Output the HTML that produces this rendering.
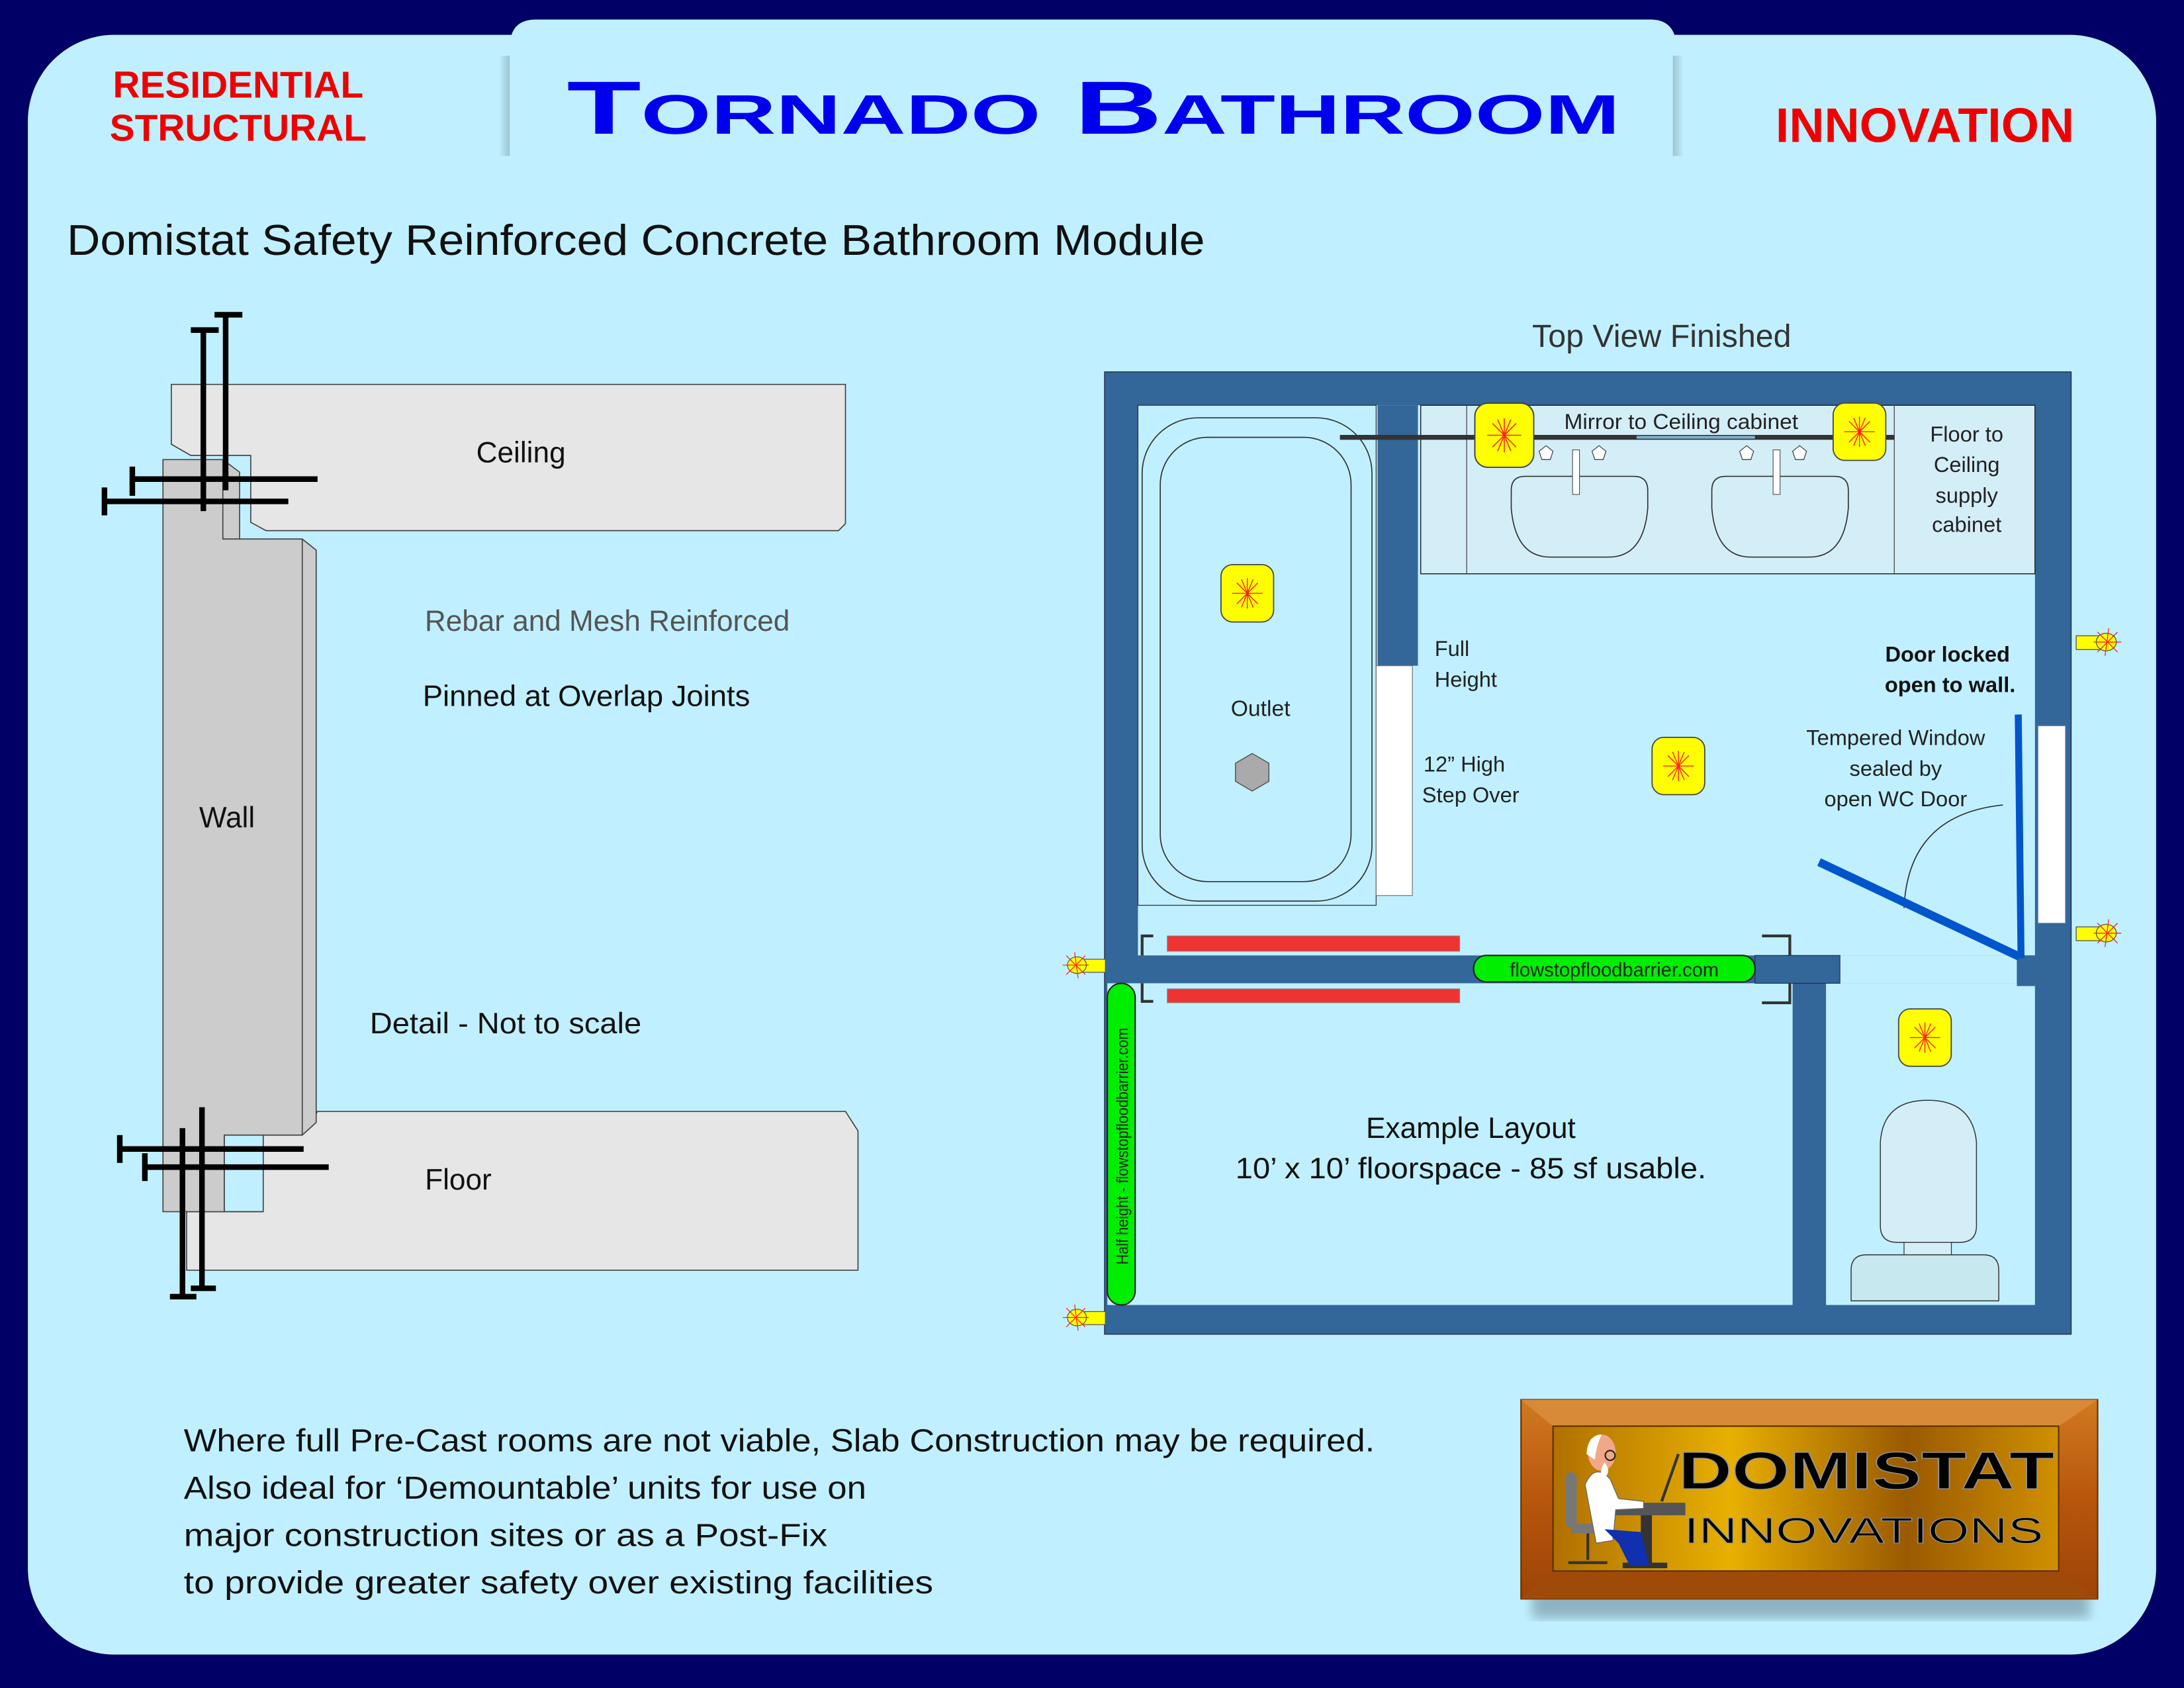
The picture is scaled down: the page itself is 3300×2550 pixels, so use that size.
<!DOCTYPE html>
<html><head><meta charset="utf-8"><style>
html,body{margin:0;padding:0;background:#000066;}
svg{display:block}
text{font-family:"Liberation Sans",sans-serif}
</style></head><body>
<svg width="3300" height="2550" viewBox="0 0 1568 1212" preserveAspectRatio="none" xmlns="http://www.w3.org/2000/svg">
<defs>
<symbol id="lamp" viewBox="0 0 46 50" overflow="visible">
<rect x="0.5" y="0.5" width="45" height="49" rx="10" fill="#ffff00" stroke="#444" stroke-width="1"/>
<g stroke="#ff2020" stroke-width="0.8">
<line x1="23" y1="12" x2="23" y2="38"/><line x1="10" y1="25" x2="36" y2="25"/>
<line x1="14" y1="16" x2="32" y2="34"/><line x1="32" y1="16" x2="14" y2="34"/>
<line x1="18" y1="13" x2="28" y2="37"/><line x1="28" y1="13" x2="18" y2="37"/>
</g>
</symbol>
<symbol id="bulb" viewBox="0 0 40 24" overflow="visible">
<rect x="14" y="7" width="22" height="11" fill="#ffff00" stroke="#555" stroke-width="0.7"/>
<ellipse cx="12" cy="12" rx="8" ry="7" fill="#ffff00" stroke="#555" stroke-width="0.7"/>
<g stroke="#ff2020" stroke-width="0.7">
<line x1="0" y1="12" x2="22" y2="12"/><line x1="3" y1="4" x2="19" y2="20"/><line x1="3" y1="20" x2="19" y2="4"/>
<line x1="10" y1="1" x2="13" y2="23"/></g>
</symbol>
<linearGradient id="gold" x1="0" y1="0" x2="1" y2="0">
<stop offset="0" stop-color="#b07000"/><stop offset="0.35" stop-color="#e8b000"/><stop offset="0.7" stop-color="#9a5a00"/><stop offset="1" stop-color="#d09000"/></linearGradient>
<linearGradient id="wood" x1="0" y1="0" x2="0" y2="1">
<stop offset="0" stop-color="#d07a20"/><stop offset="0.5" stop-color="#b8560c"/><stop offset="1" stop-color="#9c4408"/></linearGradient>
<linearGradient id="shL" x1="0" y1="0" x2="1" y2="0"><stop offset="0" stop-color="#c0f0ff"/><stop offset="1" stop-color="#9cc4d0"/></linearGradient>
<linearGradient id="shR" x1="0" y1="0" x2="1" y2="0"><stop offset="0" stop-color="#9cc4d0"/><stop offset="1" stop-color="#c0f0ff"/></linearGradient>
<filter id="blur"><feGaussianBlur stdDeviation="4"/></filter>
</defs>

<rect x="0" y="0" width="1568" height="1212" fill="#000066"/>
<rect x="20" y="25" width="1528" height="1163" rx="62" fill="#c0f0ff"/>
<!-- title tab -->
<path d="M363 112 L367 26 Q370 14 385 14 L1185 14 Q1200 14 1203 28 L1206 112 Z" fill="#c0f0ff"/>
<rect x="358" y="40" width="8" height="72" fill="url(#shL)"/>
<rect x="1201" y="40" width="8" height="72" fill="url(#shR)"/>
<text x="785" y="96" text-anchor="middle" font-size="54" font-weight="bold" fill="#0000ee" textLength="756" lengthAdjust="spacingAndGlyphs">T<tspan font-size="40">ORNADO</tspan> B<tspan font-size="40">ATHROOM</tspan></text>

<text x="171" y="70" text-anchor="middle" font-size="27" font-weight="bold" fill="#ee0000">RESIDENTIAL</text>
<text x="171" y="101" text-anchor="middle" font-size="27" font-weight="bold" fill="#ee0000">STRUCTURAL</text>
<text x="1382" y="102" text-anchor="middle" font-size="35" font-weight="bold" fill="#ee0000">INNOVATION</text>

<text x="48" y="183" font-size="31" fill="#111" textLength="817" lengthAdjust="spacingAndGlyphs">Domistat Safety Reinforced Concrete Bathroom Module</text>

<!-- left detail -->
<g stroke="#444" stroke-width="0.8">
<polygon points="123,276 607,276 607,376 602,381 191,381 180,375 180,327 137,327 123,319" fill="#e6e6e6"/>
<polygon points="134,870 134,912 616,912 616,812 607,798 228,798 218,812 189,812 189,870" fill="#e6e6e6"/>
<polygon points="117,330 160,330 172,339 172,387 217,387 227,395 227,806 217,815 161,815 161,870 117,870" fill="#cccccc"/>
<line x1="217" y1="387" x2="217" y2="815"/>
<polyline points="160,330 160,387 172,387" fill="none"/>
<polyline points="161,815 161,870 189,870" fill="none"/>
</g>
<g stroke="#000" stroke-width="4" fill="none">
<line x1="146" y1="237" x2="146" y2="367"/><line x1="137" y1="237" x2="157" y2="237"/>
<line x1="162" y1="226" x2="162" y2="352"/><line x1="154" y1="226" x2="174" y2="226"/>
<line x1="95" y1="344" x2="228" y2="344"/><line x1="95" y1="335" x2="95" y2="356"/>
<line x1="75" y1="360" x2="207" y2="360"/><line x1="75" y1="350" x2="75" y2="370"/>
<line x1="86" y1="825" x2="218" y2="825"/><line x1="86" y1="815" x2="86" y2="835"/>
<line x1="104" y1="838" x2="236" y2="838"/><line x1="104" y1="828" x2="104" y2="848"/>
<line x1="131" y1="810" x2="131" y2="931"/><line x1="122" y1="931" x2="141" y2="931"/>
<line x1="145" y1="795" x2="145" y2="925"/><line x1="137" y1="925" x2="155" y2="925"/>
</g>
<text x="374" y="332" text-anchor="middle" font-size="21" fill="#111">Ceiling</text>
<text x="163" y="594" text-anchor="middle" font-size="21" fill="#111">Wall</text>
<text x="329" y="854" text-anchor="middle" font-size="21" fill="#111">Floor</text>
<text x="436" y="453" text-anchor="middle" font-size="21" fill="#555" textLength="262" lengthAdjust="spacingAndGlyphs">Rebar and Mesh Reinforced</text>
<text x="421" y="507" text-anchor="middle" font-size="21" fill="#111" textLength="235" lengthAdjust="spacingAndGlyphs">Pinned at Overlap Joints</text>
<text x="363" y="742" text-anchor="middle" font-size="21" fill="#111" textLength="195" lengthAdjust="spacingAndGlyphs">Detail - Not to scale</text>

<!-- plan -->
<text x="1193" y="249" text-anchor="middle" font-size="23" fill="#333" textLength="186" lengthAdjust="spacingAndGlyphs">Top View Finished</text>
<rect x="793" y="267" width="694" height="691" fill="#336699" stroke="#224" stroke-width="0.6"/>
<rect x="817" y="291" width="644" height="395" fill="#c0f0ff"/>
<rect x="817" y="706" width="470" height="231" fill="#c0f0ff"/>
<rect x="1311" y="706" width="150" height="231" fill="#c0f0ff"/>
<rect x="1287" y="686" width="161" height="20" fill="#c0f0ff"/>
<rect x="1260" y="686" width="61" height="20" fill="#336699" stroke="#224" stroke-width="0.5"/>
<rect x="1448" y="686" width="13" height="22" fill="#336699"/>
<rect x="989" y="291" width="29" height="187" fill="#336699"/>
<rect x="795" y="706" width="22" height="231" fill="#c0f0ff"/>
<!-- tub -->
<rect x="817" y="291" width="171" height="359" fill="#c0f0ff" stroke="#333" stroke-width="0.6"/>
<rect x="820" y="300" width="165" height="347" rx="40" fill="none" stroke="#333" stroke-width="0.8"/>
<rect x="833" y="314" width="137" height="319" rx="34" fill="none" stroke="#333" stroke-width="0.8"/>
<text x="905" y="514" text-anchor="middle" font-size="16" fill="#222">Outlet</text>
<polygon points="899,541 911,548 911,561 899,568 887,561 887,548" fill="#aaa" stroke="#555" stroke-width="0.7"/>
<rect x="988" y="478" width="26" height="165" fill="#fff" stroke="#777" stroke-width="0.6"/>
<!-- vanity -->
<rect x="1020" y="291" width="441" height="121" fill="#d4eef8" stroke="#222" stroke-width="0.7"/>
<line x1="1053" y1="291" x2="1053" y2="412" stroke="#444" stroke-width="0.6"/>
<line x1="1360" y1="291" x2="1360" y2="412" stroke="#444" stroke-width="0.6"/>
<line x1="962" y1="314" x2="1360" y2="314" stroke="#333" stroke-width="3.5"/>
<line x1="1175" y1="314" x2="1260" y2="314" stroke="#7fb0cc" stroke-width="2"/>
<path d="M1085 352 Q1085 342 1095 342 L1173 342 Q1183 342 1183 352 L1183 365 Q1180 400 1155 400 L1113 400 Q1088 400 1085 365 Z" fill="#d4eef8" stroke="#333" stroke-width="0.8"/>
<path d="M1229 352 Q1229 342 1239 342 L1317 342 Q1327 342 1327 352 L1327 365 Q1324 400 1299 400 L1257 400 Q1232 400 1229 365 Z" fill="#d4eef8" stroke="#333" stroke-width="0.8"/>
<rect x="1129" y="323" width="5" height="32" fill="#fff" stroke="#444" stroke-width="0.5"/>
<rect x="1273" y="323" width="5" height="32" fill="#fff" stroke="#444" stroke-width="0.5"/>
<g fill="#fff" stroke="#444" stroke-width="0.6">
<polygon points="1110,320 1115,324 1113,330 1107,330 1105,324"/>
<polygon points="1148,320 1153,324 1151,330 1145,330 1143,324"/>
<polygon points="1254,320 1259,324 1257,330 1251,330 1249,324"/>
<polygon points="1292,320 1297,324 1295,330 1289,330 1287,324"/>
</g>
<text x="1207" y="308" text-anchor="middle" font-size="15.5" fill="#222" textLength="168" lengthAdjust="spacingAndGlyphs">Mirror to Ceiling cabinet</text>
<g font-size="15.5" fill="#222" text-anchor="middle">
<text x="1412" y="317">Floor to</text><text x="1412" y="339">Ceiling</text><text x="1412" y="361">supply</text><text x="1412" y="382">cabinet</text>
</g>
<use href="#lamp" x="1057" y="289" width="46" height="47"/>
<use href="#lamp" x="1312" y="289" width="46" height="42"/>
<use href="#lamp" x="873" y="405" width="45" height="42"/>
<use href="#lamp" x="1183" y="529" width="44" height="42"/>
<use href="#lamp" x="1360" y="724" width="44" height="42"/>
<g font-size="15.5" fill="#222">
<text x="1030" y="471">Full</text><text x="1030" y="493">Height</text>
<text x="1022" y="554">12” High</text><text x="1021" y="576">Step Over</text>
</g>
<g font-size="15.5" fill="#111" font-weight="bold" text-anchor="end">
<text x="1443" y="475">Door locked</text><text x="1447" y="497">open to wall.</text>
</g>
<g font-size="15.5" fill="#222" text-anchor="middle">
<text x="1361" y="535">Tempered Window</text><text x="1361" y="557">sealed by</text><text x="1361" y="579">open WC Door</text>
</g>
<rect x="1463" y="521" width="20" height="142" fill="#fff" stroke="#4477aa" stroke-width="0.7"/>
<path d="M1367 652 Q1370 585 1438 578" fill="none" stroke="#333" stroke-width="0.8"/>
<line x1="1306" y1="619" x2="1450" y2="687" stroke="#0055cc" stroke-width="6"/>
<line x1="1449" y1="513" x2="1451" y2="688" stroke="#0055cc" stroke-width="5"/>
<!-- flood barriers -->
<rect x="838" y="672" width="210" height="11" fill="#ee3333" stroke="#888" stroke-width="0.5"/>
<rect x="838" y="710" width="210" height="10" fill="#ee3333" stroke="#888" stroke-width="0.5"/>
<g stroke="#333" stroke-width="2" fill="none">
<polyline points="828,672 820,672 820,686"/><polyline points="820,706 820,719 828,719"/>
<polyline points="1265,672 1285,672 1285,686"/><polyline points="1285,706 1285,720 1265,720"/>
</g>
<rect x="1058" y="686" width="202" height="19" rx="9" fill="#00ee00" stroke="#222" stroke-width="1"/>
<text x="1159" y="701" text-anchor="middle" font-size="14" fill="#222" textLength="150" lengthAdjust="spacingAndGlyphs">flowstopfloodbarrier.com</text>
<rect x="795" y="706" width="20" height="231" rx="10" fill="#00ee00" stroke="#222" stroke-width="1"/>
<text transform="translate(810,908) rotate(-90)" font-size="12" fill="#222" textLength="170" lengthAdjust="spacingAndGlyphs">Half height - flowstopfloodbarrier.com</text>
<use href="#bulb" x="763" y="682" width="34" height="22"/>
<use href="#bulb" x="763" y="935" width="34" height="22"/>
<g transform="translate(1523,450) scale(-1,1)"><use href="#bulb" x="0" y="0" width="36" height="22"/></g>
<g transform="translate(1523,659) scale(-1,1)"><use href="#bulb" x="0" y="0" width="36" height="22"/></g>
<!-- toilet -->
<path d="M1350 820 Q1352 790 1384 790 Q1416 790 1419 820 L1419 880 Q1419 892 1407 892 L1362 892 Q1350 892 1350 880 Z" fill="#d4eef8" stroke="#333" stroke-width="0.7"/>
<rect x="1367" y="892" width="34" height="9" fill="#d4eef8" stroke="#333" stroke-width="0.6"/>
<path d="M1329 934 L1329 912 Q1329 901 1340 901 L1424 901 Q1435 901 1435 912 L1435 934 Z" fill="#c8e8f0" stroke="#333" stroke-width="0.7"/>
<text x="1056" y="817" text-anchor="middle" font-size="21" fill="#111">Example Layout</text>
<text x="1056" y="846" text-anchor="middle" font-size="21" fill="#111" textLength="338" lengthAdjust="spacingAndGlyphs">10’ x 10’ floorspace - 85 sf usable.</text>

<!-- bottom text -->
<g font-size="23" fill="#111">
<text x="132" y="1042" textLength="855" lengthAdjust="spacingAndGlyphs">Where full Pre-Cast rooms are not viable, Slab Construction may be required.</text>
<text x="132" y="1076" textLength="490" lengthAdjust="spacingAndGlyphs">Also ideal for ‘Demountable’ units for use on</text>
<text x="132" y="1110" textLength="462" lengthAdjust="spacingAndGlyphs">major construction sites or as a Post-Fix</text>
<text x="132" y="1144" textLength="538" lengthAdjust="spacingAndGlyphs">to provide greater safety over existing facilities</text>
</g>

<!-- logo -->
<rect x="1100" y="1140" width="400" height="22" fill="#7a9aa6" opacity="0.7" filter="url(#blur)"/>
<rect x="1092" y="1005" width="414" height="143" fill="url(#wood)" stroke="#6a3000" stroke-width="1"/>
<polygon points="1092,1005 1506,1005 1478,1024 1115,1024" fill="#d88a38"/>
<polygon points="1092,1148 1506,1148 1478,1128 1115,1128" fill="#a04a0a"/>
<rect x="1115" y="1024" width="363" height="104" fill="url(#gold)" stroke="#5a3000" stroke-width="1"/>
<text x="1340" y="1069" text-anchor="middle" font-size="38" font-weight="bold" fill="#000" stroke="#999" stroke-width="0.6" textLength="270" lengthAdjust="spacingAndGlyphs">DOMISTAT</text>
<text x="1338" y="1108" text-anchor="middle" font-size="26" fill="#000" stroke="#999" stroke-width="0.5" textLength="258" lengthAdjust="spacingAndGlyphs">INNOVATIONS</text>
<!-- scientist -->
<rect x="1157" y="1079" width="53" height="9" fill="#555"/>
<rect x="1178" y="1088" width="8" height="38" fill="#333"/>
<rect x="1165" y="1122" width="32" height="4" fill="#333"/>
<line x1="1193" y1="1078" x2="1205" y2="1044" stroke="#333" stroke-width="2"/>
<rect x="1124" y="1057" width="8" height="40" rx="4" fill="#777"/>
<rect x="1128" y="1094" width="24" height="7" fill="#777"/>
<line x1="1140" y1="1101" x2="1140" y2="1120" stroke="#333" stroke-width="2"/>
<line x1="1126" y1="1122" x2="1154" y2="1122" stroke="#333" stroke-width="2"/>
<path d="M1138 1066 Q1145 1050 1156 1062 L1162 1076 L1180 1078 L1180 1083 L1160 1084 L1158 1106 L1146 1108 Z" fill="#fff" stroke="#666" stroke-width="0.6"/>
<path d="M1152 1098 L1178 1100 L1184 1124 L1170 1124 L1162 1108 Z" fill="#1030b0"/>
<ellipse cx="1150" cy="1043" rx="10" ry="13" fill="#f0a888"/>
<path d="M1139 1044 Q1140 1030 1150 1030 Q1146 1038 1145 1048Z" fill="#fff"/>
<path d="M1152 1050 Q1158 1058 1150 1062 Q1148 1056 1152 1050Z" fill="#fff"/>
<circle cx="1156" cy="1045" r="3.5" fill="none" stroke="#222" stroke-width="1"/>
</svg>
</body></html>
